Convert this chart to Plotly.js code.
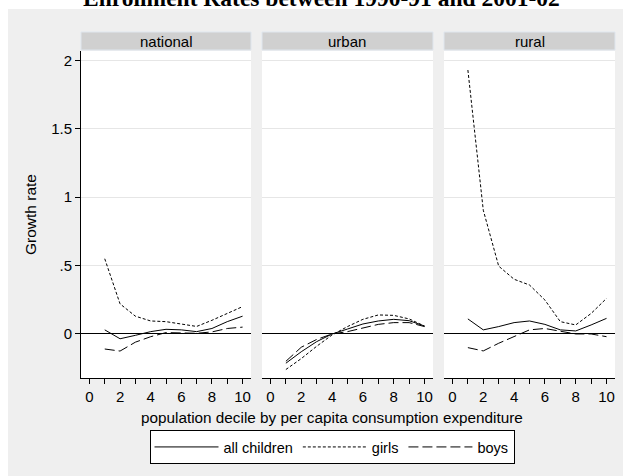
<!DOCTYPE html>
<html>
<head>
<meta charset="utf-8">
<script src="https://cdn.plot.ly/plotly-3.0.1.min.js"></script>
<style>html,body{margin:0;padding:0;background:#fff;}#chart{width:623px;height:476px;}</style>
</head>
<body>
<div id="chart"></div>
<script>
// Data
const deciles = [1, 2, 3, 4, 5, 6, 7, 8, 9, 10];
const panels = ["national", "urban", "rural"];
const seriesNames = ["all children", "girls", "boys"];

const nationalAll   = [0.03, -0.035, -0.01, 0.017, 0.034, 0.03, 0.017, 0.04, 0.09, 0.13];
const nationalGirls = [0.55, 0.22, 0.13, 0.095, 0.09, 0.07, 0.055, 0.10, 0.15, 0.20];
const nationalBoys  = [-0.11, -0.125, -0.06, -0.02, 0.01, 0.01, 0.005, 0.015, 0.04, 0.05];

const urbanAll   = [-0.214, -0.13, -0.056, 0.0, 0.036, 0.073, 0.095, 0.107, 0.097, 0.058];
const urbanGirls = [-0.26, -0.18, -0.09, -0.007, 0.054, 0.107, 0.139, 0.136, 0.11, 0.058];
const urbanBoys  = [-0.20, -0.097, -0.04, 0.0, 0.017, 0.046, 0.07, 0.083, 0.083, 0.054];

const ruralAll   = [0.11, 0.03, 0.054, 0.083, 0.095, 0.07, 0.03, 0.022, 0.066, 0.114];
const ruralGirls = [1.93, 0.905, 0.496, 0.40, 0.358, 0.248, 0.09, 0.066, 0.15, 0.26];
const ruralBoys  = [-0.10, -0.124, -0.068, -0.02, 0.03, 0.04, 0.022, 0.0, 0.0, -0.02];

const xTickVals = [0, 1, 2, 3, 4, 5, 6, 7, 8, 9, 10];
const xTickText = ["0", "", "2", "", "4", "", "6", "", "8", "", "10"];
const yTickVals = [0, 0.5, 1, 1.5, 2];
const yTickText = ["0", ".5", "1", "1.5", "2"];

const titleText = "Enrollment Rates between 1990-91 and 2001-02";
const xTitleText = "population decile by per capita consumption expenditure";
const yTitleText = "Growth rate";

// Styling
const dashes = ["solid", "3px,2px", "10px,4px"];
const panelData = [
  [nationalAll, nationalGirls, nationalBoys],
  [urbanAll, urbanGirls, urbanBoys],
  [ruralAll, ruralGirls, ruralBoys]
];
const axisSuffix = ["", "2", "3"];

const traces = [];
panelData.forEach((set, p) => {
  set.forEach((vals, s) => {
    traces.push({
      x: deciles, y: vals, type: "scatter", mode: "lines",
      name: seriesNames[s], legendgroup: "g" + s,
      xaxis: "x" + axisSuffix[p], yaxis: "y" + axisSuffix[p],
      line: {color: "#000", width: 1, dash: dashes[s]},
      showlegend: p === 0,
      hoverinfo: "skip"
    });
  });
});

// geometry (pixels)
const W = 623, H = 476;
const mL = 81, mR = 8, mT = 51, mB = 98;
const pw = W - mL - mR, ph = H - mT - mB;
const px2x = px => (px - mL) / pw;
const py2y = py => 1 - (py - mT) / ph;

const doms = [[0, 170 / pw], [181 / pw, 352 / pw], [363 / pw, 1]];
const font = "Liberation Sans, Arial, sans-serif";

function xaxisDef(i) {
  return {
    domain: doms[i], range: [-0.55, 10.55], anchor: "y" + axisSuffix[i],
    tickmode: "array", tickvals: xTickVals, ticktext: xTickText,
    ticks: "outside", ticklen: 5, tickcolor: "#000", tickwidth: 1,
    showline: true, linecolor: "#000", linewidth: 1,
    showgrid: false, zeroline: false,
    tickfont: {family: font, size: 15, color: "#000"}, fixedrange: true
  };
}
function yaxisDef(i) {
  const base = {
    domain: [0, 1], range: [-0.322, 2.069], anchor: "x" + axisSuffix[i],
    tickmode: "array", tickvals: yTickVals, ticktext: yTickText,
    showgrid: true, gridcolor: "#e6e6e6", gridwidth: 1,
    zeroline: true, zerolinecolor: "#000", zerolinewidth: 1,
    tickfont: {family: font, size: 15, color: "#000"}, fixedrange: true
  };
  if (i === 0) {
    Object.assign(base, {ticks: "outside", ticklen: 5, tickcolor: "#000",
      showline: true, linecolor: "#000", linewidth: 1, showticklabels: true});
  } else {
    Object.assign(base, {ticks: "", showline: false, showticklabels: false, matches: "y"});
  }
  return base;
}

const shapes = [
  // white paper margins (top and left)
  {type: "rect", xref: "paper", yref: "paper", x0: px2x(-5), x1: px2x(W + 5), y0: py2y(9), y1: py2y(-5),
   fillcolor: "#fff", line: {width: 0}, layer: "below"},
  {type: "rect", xref: "paper", yref: "paper", x0: px2x(-5), x1: px2x(8), y0: py2y(H + 5), y1: py2y(-5),
   fillcolor: "#fff", line: {width: 0}, layer: "below"}
];
const annotations = [];
panels.forEach((name, i) => {
  shapes.push({type: "rect", xref: "paper", yref: "paper", x0: doms[i][0], x1: doms[i][1],
    y0: py2y(50), y1: py2y(32), fillcolor: "#d0d0d0", line: {color: "#dfe6ee", width: 1}});
  annotations.push({xref: "paper", yref: "paper", x: (doms[i][0] + doms[i][1]) / 2, y: py2y(41),
    xanchor: "center", yanchor: "middle", text: name, showarrow: false,
    font: {family: font, size: 15, color: "#000"}});
});
annotations.push({xref: "paper", yref: "paper", x: px2x(321), y: py2y(-1.5), xanchor: "center", yanchor: "middle",
  text: "<b>" + titleText + "</b>", showarrow: false,
  font: {family: "Liberation Serif, Times New Roman, serif", size: 23.5, color: "#000"}});
annotations.push({xref: "paper", yref: "paper", x: px2x(332), y: py2y(417), xanchor: "center", yanchor: "middle",
  text: xTitleText, showarrow: false, font: {family: font, size: 15.3, color: "#000"}});
annotations.push({xref: "paper", yref: "paper", x: px2x(31), y: py2y(215), xanchor: "center", yanchor: "middle",
  text: yTitleText, textangle: -90, showarrow: false, font: {family: font, size: 15.5, color: "#000"}});

const layout = {
  width: W, height: H,
  margin: {l: mL, r: mR, t: mT, b: mB, pad: 0},
  paper_bgcolor: "#efefef", plot_bgcolor: "#fff",
  showlegend: true,
  legend: {orientation: "h", x: px2x(332), xanchor: "center", y: py2y(430), yanchor: "top",
    bgcolor: "#fff", bordercolor: "#000", borderwidth: 1,
    font: {family: font, size: 14.5, color: "#000"}, itemwidth: 64, tracegroupgap: 22,
    traceorder: "grouped"},
  xaxis: xaxisDef(0), xaxis2: xaxisDef(1), xaxis3: xaxisDef(2),
  yaxis: yaxisDef(0), yaxis2: yaxisDef(1), yaxis3: yaxisDef(2),
  shapes: shapes, annotations: annotations
};

Plotly.newPlot("chart", traces, layout, {displayModeBar: false, staticPlot: true});
</script>
</body>
</html>
